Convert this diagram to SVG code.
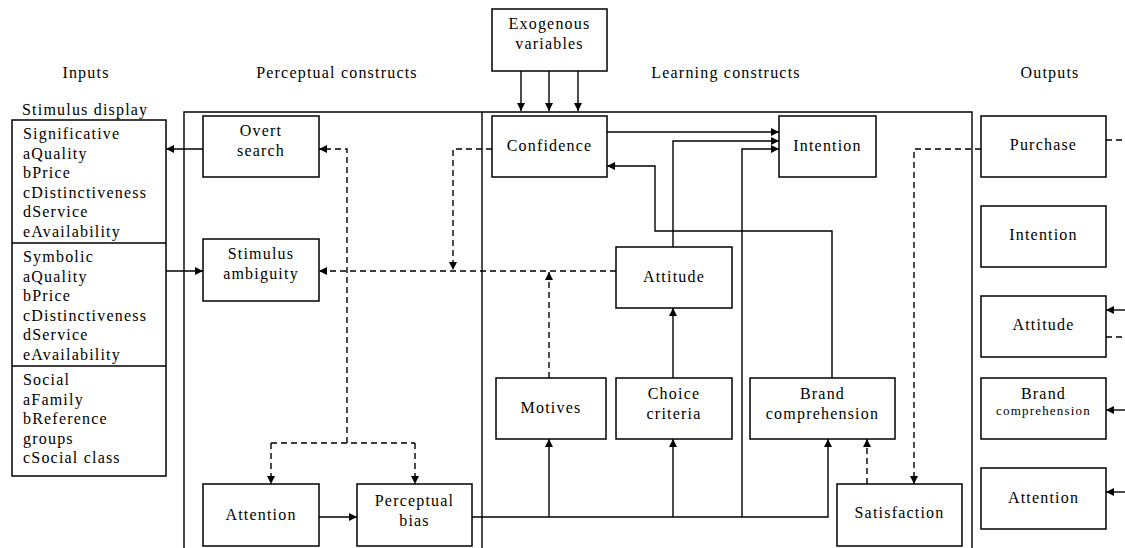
<svg xmlns="http://www.w3.org/2000/svg" width="1125" height="548" viewBox="0 0 1125 548" font-family="'Liberation Serif', 'DejaVu Serif', serif">
  <defs>
    <marker id="arrow" markerUnits="userSpaceOnUse" markerWidth="9" markerHeight="8" refX="8" refY="4" orient="auto">
      <path d="M0,0 L8,4 L0,8 z" fill="#000"/>
    </marker>
    <style>
      text { font-family: 'Liberation Serif', 'DejaVu Serif', serif; font-size: 16px; letter-spacing: 1.2px; fill: #000; }
      .c { text-anchor: middle; }
      .small { font-size: 13px; letter-spacing: 1.2px; }
      .box { fill: #fff; stroke: #000; stroke-width: 1.5; }
      .frame { fill: none; stroke: #000; stroke-width: 1.4; }
      .ln { fill: none; stroke: #000; stroke-width: 1.4; }
      .ar { marker-end: url(#arrow); }
      .dash { stroke-dasharray: 6 4; }
    </style>
  </defs>
  <rect width="1125" height="548" fill="#fff"/>

  <!-- column headings -->
  <g id="headings">
    <text class="c" x="86" y="78">Inputs</text>
    <text class="c" x="337" y="78">Perceptual constructs</text>
    <text class="c" x="726" y="78">Learning constructs</text>
    <text class="c" x="1050" y="78">Outputs</text>
  </g>

  <!-- construct frame -->
  <g id="frame">
    <path class="frame" d="M184,548 V112 H972 V548 M482,112 V548"/>
  </g>

  <!-- connectors -->
  <g id="connectors">
    <!-- solid -->
    <path class="ln ar" d="M203,149 H166"/>
    <path class="ln ar" d="M166,271 H203"/>
    <path class="ln ar" d="M521,71 V111"/>
    <path class="ln ar" d="M549,71 V111"/>
    <path class="ln ar" d="M578,71 V111"/>
    <path class="ln ar" d="M607,132 H779"/>
    <path class="ln ar" d="M673,247 V141 H779"/>
    <path class="ln ar" d="M742,517 V149 H779"/>
    <path class="ln ar" d="M832,378 V231 H655 V166 H607"/>
    <path class="ln ar" d="M673,378 V308"/>
    <path class="ln ar" d="M472,517 H828 V439"/>
    <path class="ln ar" d="M549,517 V439"/>
    <path class="ln ar" d="M673,517 V439"/>
    <path class="ln ar" d="M319,517 H357"/>
    <path class="ln ar" d="M1125,310 H1106"/>
    <path class="ln ar" d="M1125,410 H1106"/>
    <path class="ln ar" d="M1125,492 H1106"/>
    <!-- dashed -->
    <path class="ln dash ar" d="M347,443 V149 H319"/>
    <path class="ln dash" d="M271,443 H415"/>
    <path class="ln dash ar" d="M271,443 V484"/>
    <path class="ln dash ar" d="M415,443 V484"/>
    <path class="ln dash ar" d="M616,271 H319"/>
    <path class="ln dash ar" d="M492,149 H453 V270"/>
    <path class="ln dash ar" d="M549,378 V272"/>
    <path class="ln dash ar" d="M867,484 V439"/>
    <path class="ln dash ar" d="M981,149 H914 V484"/>
    <path class="ln dash" d="M1106,140 H1125"/>
    <path class="ln dash" d="M1106,337 H1125"/>
  </g>

  <!-- inputs -->
  <g id="stimulus-display">
    <text x="22" y="115">Stimulus display</text>
    <rect class="box" x="12" y="120" width="154" height="356"/>
    <path class="ln" d="M12,243 H166 M12,366 H166"/>
    <text x="23" y="139">Significative</text>
    <text x="23" y="158.5">aQuality</text>
    <text x="23" y="178">bPrice</text>
    <text x="23" y="197.5">cDistinctiveness</text>
    <text x="23" y="217">dService</text>
    <text x="23" y="236.5">eAvailability</text>
    <text x="23" y="262">Symbolic</text>
    <text x="23" y="281.5">aQuality</text>
    <text x="23" y="301">bPrice</text>
    <text x="23" y="320.5">cDistinctiveness</text>
    <text x="23" y="340">dService</text>
    <text x="23" y="359.5">eAvailability</text>
    <text x="23" y="385">Social</text>
    <text x="23" y="404.5">aFamily</text>
    <text x="23" y="424">bReference</text>
    <text x="23" y="443.5">groups</text>
    <text x="23" y="463">cSocial class</text>
  </g>

  <!-- perceptual constructs -->
  <g id="overt-search">
    <rect class="box" x="203" y="116" width="116" height="61"/>
    <text class="c" x="261" y="136">Overt</text>
    <text class="c" x="261" y="156">search</text>
  </g>
  <g id="stimulus-ambiguity">
    <rect class="box" x="203" y="239" width="116" height="62"/>
    <text class="c" x="261" y="259">Stimulus</text>
    <text class="c" x="261" y="279">ambiguity</text>
  </g>
  <g id="attention">
    <rect class="box" x="203" y="484" width="116" height="62"/>
    <text class="c" x="261" y="520">Attention</text>
  </g>
  <g id="perceptual-bias">
    <rect class="box" x="357" y="484" width="115" height="62"/>
    <text class="c" x="414.5" y="506">Perceptual</text>
    <text class="c" x="414.5" y="526">bias</text>
  </g>

  <!-- learning constructs -->
  <g id="exogenous-variables">
    <rect class="box" x="492" y="9" width="115" height="62"/>
    <text class="c" x="549.5" y="29">Exogenous</text>
    <text class="c" x="549.5" y="49">variables</text>
  </g>
  <g id="confidence">
    <rect class="box" x="492" y="116" width="115" height="61"/>
    <text class="c" x="549.5" y="151">Confidence</text>
  </g>
  <g id="intention">
    <rect class="box" x="779" y="116" width="97" height="61"/>
    <text class="c" x="827.5" y="151">Intention</text>
  </g>
  <g id="attitude">
    <rect class="box" x="616" y="247" width="116" height="61"/>
    <text class="c" x="674" y="282">Attitude</text>
  </g>
  <g id="motives">
    <rect class="box" x="496" y="378" width="110" height="61"/>
    <text class="c" x="551" y="413">Motives</text>
  </g>
  <g id="choice-criteria">
    <rect class="box" x="616" y="378" width="116" height="61"/>
    <text class="c" x="674" y="399">Choice</text>
    <text class="c" x="674" y="419">criteria</text>
  </g>
  <g id="brand-comprehension">
    <rect class="box" x="750" y="378" width="145" height="61"/>
    <text class="c" x="822.5" y="399">Brand</text>
    <text class="c" x="822.5" y="419">comprehension</text>
  </g>
  <g id="satisfaction">
    <rect class="box" x="837" y="484" width="125" height="62"/>
    <text class="c" x="899.5" y="518">Satisfaction</text>
  </g>

  <!-- outputs -->
  <g id="out-purchase">
    <rect class="box" x="981" y="116" width="125" height="61"/>
    <text class="c" x="1043.5" y="150">Purchase</text>
  </g>
  <g id="out-intention">
    <rect class="box" x="981" y="206" width="125" height="61"/>
    <text class="c" x="1043.5" y="240">Intention</text>
  </g>
  <g id="out-attitude">
    <rect class="box" x="981" y="296" width="125" height="61"/>
    <text class="c" x="1043.5" y="330">Attitude</text>
  </g>
  <g id="out-brand-comprehension">
    <rect class="box" x="981" y="378" width="125" height="61"/>
    <text class="c" x="1043.5" y="399">Brand</text>
    <text class="c small" x="1043.5" y="415">comprehension</text>
  </g>
  <g id="out-attention">
    <rect class="box" x="981" y="468" width="125" height="61"/>
    <text class="c" x="1043.5" y="503">Attention</text>
  </g>
</svg>
